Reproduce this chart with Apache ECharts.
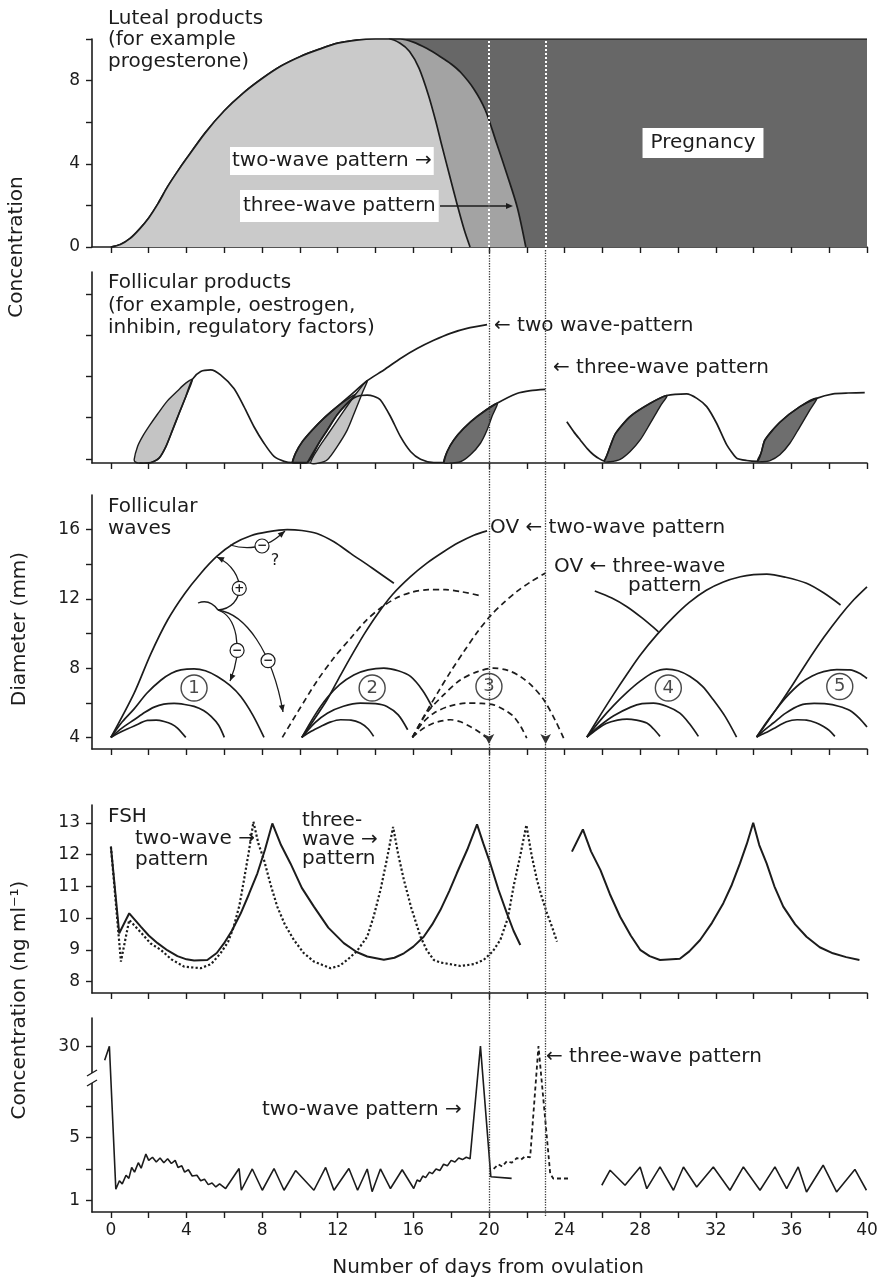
<!DOCTYPE html>
<html>
<head>
<meta charset="utf-8">
<title>Luteal and follicular products, follicular waves, FSH and LH</title>
<script src="https://cdn.jsdelivr.net/npm/echarts@6.0.0/dist/echarts.min.js"></script>
<style>
  html, body { margin: 0; padding: 0; background: #fff; }
  #chart { width: 882px; height: 1280px; }
</style>
</head>
<body>
<div id="chart"></div>
<script>
var FONT = '"DejaVu Sans", "Liberation Sans", sans-serif';
var INK = '#1c1c1c';

// shared x axis (days from ovulation)
var dayTicks = [0, 2, 4, 6, 8, 10, 12, 14, 16, 18, 20, 22, 24, 26, 28, 30, 32, 34, 36, 38, 40];
var dayLabels = [0, 4, 8, 12, 16, 20, 24, 28, 32, 36, 40];
var ovulationDays = [20, 23];

// panel 1 : luteal products
var luteal2Wave = [[0, 0], [0.5, 0.12], [1, 0.4], [1.5, 0.85], [2, 1.4], [2.5, 2.1], [3, 2.9], [3.5, 3.6], [4, 4.25],
  [5, 5.5], [6, 6.55], [7, 7.4], [8, 8.1], [9, 8.7], [10, 9.15], [11, 9.5], [12, 9.8], [13, 9.95], [14, 10], [14.7, 10],
  [15.3, 9.8], [15.8, 9.4], [16.3, 8.6], [16.8, 7.3], [17.2, 6.0], [17.5, 4.9], [17.9, 3.5], [18.3, 2.1], [18.7, 0.8], [19.0, 0]];
var luteal3Wave = [[0, 0], [0.5, 0.12], [1, 0.4], [1.5, 0.85], [2, 1.4], [2.5, 2.1], [3, 2.9], [3.5, 3.6], [4, 4.25],
  [5, 5.5], [6, 6.55], [7, 7.4], [8, 8.1], [9, 8.7], [10, 9.15], [11, 9.5], [12, 9.8], [13, 9.95], [14, 10], [15.3, 10],
  [16.0, 9.85], [16.7, 9.55], [17.43, 9.15], [18.0, 8.8], [18.5, 8.4], [19.2, 7.6], [19.8, 6.6], [20.4, 5.0],
  [20.95, 3.5], [21.5, 1.9], [21.95, 0]];
var pregnancy = [[14.7, 10], [40, 10]];
var lutealTicks = [0, 2, 4, 6, 8, 10];
var lutealLabels = [0, 4, 8];

// panel 2 : follicular products
var folLeaf1 = [[1.23, -0.02], [1.41, 0.30], [1.67, 0.54], [2.03, 0.80], [2.47, 1.09], [2.99, 1.41], [3.52, 1.65],
  [3.96, 1.84], [4.31, 1.93], [3.96, 1.51], [3.61, 1.11], [3.26, 0.70], [2.91, 0.30], [2.55, 0.02], [2.11, -0.09],
  [1.5, -0.1], [1.3, -0.08]];
var folBump1 = [[1.5, -0.1], [2.11, -0.09], [2.55, 0.02], [2.91, 0.30], [3.26, 0.70], [3.61, 1.11], [3.96, 1.51],
  [4.31, 1.93], [4.75, 2.12], [5.28, 2.16], [5.8, 2.04], [6.51, 1.71], [7.04, 1.27], [7.57, 0.78], [8.1, 0.38],
  [8.63, 0.06], [9.16, -0.06], [9.6, -0.09], [10.4, -0.09]];
var folLeaf2Dark = [[9.60, -0.09], [9.77, 0.14], [10.13, 0.42], [10.65, 0.70], [11.27, 0.99], [11.97, 1.27],
  [12.68, 1.50], [13.12, 1.61], [12.5, 1.35], [11.97, 1.07], [11.45, 0.70], [11.0, 0.38], [10.65, 0.06],
  [10.39, -0.09], [9.86, -0.1]];
var folLeaf2Light = [[10.57, -0.1], [10.92, 0.22], [11.45, 0.58], [12.06, 0.99], [12.85, 1.51], [13.56, 1.9],
  [13.29, 1.59], [12.94, 1.19], [12.5, 0.70], [11.97, 0.30], [11.45, -0.02], [11.0, -0.1]];
var folBig2 = [[9.60, -0.09], [9.77, 0.14], [10.13, 0.42], [10.65, 0.70], [11.27, 0.99], [11.97, 1.27], [12.68, 1.55],
  [13.56, 1.9], [14.44, 2.16], [15.32, 2.44], [16.2, 2.68], [17.08, 2.88], [17.96, 3.05], [18.84, 3.17], [19.9, 3.26]];
var folBump2 = [[10.39, -0.09], [11.0, 0.38], [11.45, 0.70], [11.97, 1.07], [12.5, 1.35], [12.85, 1.48], [13.2, 1.54],
  [13.56, 1.55], [13.9, 1.52], [14.26, 1.43], [14.79, 1.03], [15.32, 0.54], [15.85, 0.18], [16.38, -0.01],
  [17.08, -0.09], [17.61, -0.09]];
var folWave3 = [[17.61, -0.09], [17.79, 0.18], [18.14, 0.46], [18.66, 0.74], [19.37, 1.03], [20.43, 1.35],
  [21.48, 1.59], [22.2, 1.66], [22.98, 1.69]];
var folLeaf3 = [[17.61, -0.09], [17.79, 0.18], [18.14, 0.46], [18.66, 0.74], [19.37, 1.03], [20.43, 1.35],
  [20.16, 1.03], [19.9, 0.70], [19.55, 0.38], [19.02, 0.10], [18.49, -0.07], [17.96, -0.1]];
var folBump4 = [[24.12, 0.9], [24.5, 0.65], [24.83, 0.46], [25.2, 0.25], [25.53, 0.1], [25.85, 0.0], [26.1, -0.05],
  [26.25, 0.1], [26.45, 0.35], [26.7, 0.62], [27.47, 1.03], [28.53, 1.35], [29.41, 1.54], [30.46, 1.58], [31.0, 1.47],
  [31.52, 1.27], [32.05, 0.86], [32.58, 0.34], [33.1, 0.02], [33.63, -0.04], [34.2, -0.06], [34.4, 0.15],
  [34.6, 0.46], [35.39, 0.89], [36.45, 1.27], [37.33, 1.47], [38.21, 1.58], [39.0, 1.6], [39.88, 1.61]];
var folLeaf4 = [[26.1, -0.06], [26.25, 0.1], [26.45, 0.35], [26.7, 0.62], [27.47, 1.03], [28.53, 1.35], [29.41, 1.54],
  [29.05, 1.27], [28.53, 0.86], [28.0, 0.46], [27.47, 0.18], [26.94, -0.01], [26.41, -0.07]];
var folLeaf5 = [[34.2, -0.06], [34.4, 0.15], [34.6, 0.46], [35.39, 0.89], [36.45, 1.27], [37.33, 1.47],
  [36.98, 1.19], [36.45, 0.78], [35.92, 0.38], [35.39, 0.1], [34.87, -0.04], [34.43, -0.07]];
var folTicks = [0, 1, 2, 3, 4];

// panel 3 : follicular waves (diameter, mm)
var w1Dom = [[0, 4], [1.23, 6.56], [2.1, 8.8], [3.0, 10.78], [3.9, 12.3], [4.75, 13.47], [5.6, 14.45], [6.5, 15.2],
  [7.4, 15.65], [8.28, 15.87], [9.33, 16.0], [10.1, 15.95], [10.9, 15.78], [11.8, 15.3], [12.68, 14.63],
  [13.8, 13.8], [14.97, 12.9]];
var w1a = [[0, 4], [0.6, 4.9], [1.23, 5.65], [1.9, 6.55], [2.64, 7.3], [3.2, 7.7], [3.7, 7.9], [4.4, 7.96], [5.0, 7.85],
  [5.63, 7.52], [6.3, 7.0], [6.87, 6.36], [7.5, 5.3], [8.1, 4.0]];
var w1b = [[0, 4], [0.6, 4.55], [1.23, 5.02], [1.8, 5.45], [2.29, 5.75], [2.8, 5.92], [3.34, 5.96], [3.9, 5.9],
  [4.4, 5.79], [4.9, 5.55], [5.3, 5.21], [5.7, 4.7], [6.0, 4.0]];
var w1c = [[0, 4], [0.6, 4.35], [1.23, 4.66], [1.94, 4.98], [2.4, 5.0], [2.82, 4.92], [3.2, 4.78], [3.52, 4.54], [3.96, 4.0]];
var w2Dom3 = [[9.07, 4], [9.9, 5.5], [10.9, 7.25], [11.8, 8.6], [12.7, 9.75], [13.5, 10.75], [14.3, 11.5],
  [15.1, 12.05], [15.9, 12.38], [16.8, 12.53], [17.7, 12.53], [18.6, 12.4], [19.6, 12.17]];
var w2Dom = [[10.1, 4], [10.7, 4.95], [11.45, 6.2], [12.15, 7.6], [12.85, 8.95], [13.45, 10.05], [14.09, 11.1],
  [14.9, 12.25], [15.85, 13.28], [16.7, 14.05], [17.6, 14.72], [18.4, 15.25], [19.2, 15.68], [19.9, 15.93]];
var w2a = [[10.1, 4], [10.8, 5.3], [11.45, 6.3], [12.1, 7.05], [12.85, 7.61], [13.6, 7.9], [14.44, 8.0], [15.2, 7.85],
  [15.85, 7.52], [16.5, 6.7], [17.0, 5.75]];
var w2b = [[10.1, 4], [10.8, 4.85], [11.45, 5.4], [12.3, 5.8], [13.2, 5.98], [14.0, 5.95], [14.6, 5.79], [15.2, 5.3],
  [15.7, 4.44]];
var w2c = [[10.1, 4], [10.6, 4.35], [11.1, 4.63], [11.6, 4.88], [12.15, 5.02], [12.7, 5.0], [13.2, 4.83], [13.6, 4.5],
  [13.9, 4.06]];
var w3Dom = [[15.95, 4], [16.6, 5.3], [17.3, 6.6], [18.0, 7.85], [18.7, 9.0], [19.4, 10.1], [20.1, 11.05],
  [20.8, 11.8], [21.5, 12.45], [22.2, 12.98], [23.0, 13.5]];
var w3a = [[15.95, 4], [16.7, 5.4], [17.6, 6.45], [18.5, 7.33], [19.4, 7.8], [20.25, 8.0], [21.0, 7.87], [21.66, 7.52],
  [22.3, 6.95], [22.9, 6.17], [23.5, 5.0], [23.95, 3.96]];
var w3b = [[15.95, 4], [16.5, 4.85], [17.08, 5.4], [17.9, 5.8], [18.84, 5.98], [19.6, 5.96], [20.25, 5.88],
  [20.8, 5.6], [21.3, 5.21], [21.7, 4.6], [22.0, 3.96]];
var w3c = [[15.95, 4], [16.5, 4.5], [17.08, 4.83], [17.5, 4.95], [17.96, 5.02], [18.5, 4.9], [19.0, 4.63],
  [19.5, 4.3], [19.9, 3.96]];
var w4Regress = [[25.6, 12.46], [26.5, 12.05], [27.3, 11.55], [28.1, 10.9], [28.97, 10.1]];
var w4Dom = [[25.18, 4.02], [25.9, 5.3], [26.6, 6.5], [27.3, 7.65], [28.0, 8.75], [28.9, 9.95], [29.76, 10.95],
  [30.6, 11.8], [31.5, 12.5], [32.4, 12.98], [33.3, 13.28], [34.0, 13.4], [34.7, 13.43], [35.7, 13.25],
  [36.8, 12.9], [37.7, 12.35], [38.6, 11.65]];
var w4a = [[25.18, 4.02], [25.9, 5.0], [26.6, 5.85], [27.3, 6.6], [28.0, 7.25], [28.7, 7.75], [29.4, 7.94], [30.0, 7.85],
  [30.64, 7.52], [31.3, 6.95], [31.87, 6.17], [32.5, 5.2], [33.1, 4.02]];
var w4b = [[25.18, 4.02], [25.9, 4.7], [26.6, 5.25], [27.5, 5.75], [28.1, 5.95], [28.7, 5.98], [29.4, 5.8],
  [30.1, 5.4], [30.6, 4.8], [31.08, 4.06]];
var w4c = [[25.18, 4.02], [25.7, 4.45], [26.2, 4.8], [26.8, 5.0], [27.3, 5.06], [27.8, 5.0], [28.35, 4.83],
  [28.7, 4.5], [29.05, 4.06]];
var w5Dom = [[34.16, 4.02], [34.8, 5.0], [35.4, 5.95], [36.1, 7.1], [36.8, 8.3], [37.7, 9.75], [38.56, 11.0],
  [39.3, 11.95], [40, 12.7]];
var w5a = [[34.16, 4.02], [34.6, 4.75], [35.04, 5.4], [35.7, 6.3], [36.45, 7.1], [37.1, 7.55], [37.7, 7.8],
  [38.4, 7.92], [39.1, 7.9], [39.6, 7.7], [40, 7.4]];
var w5b = [[34.16, 4.02], [34.6, 4.45], [35.04, 4.83], [35.7, 5.4], [36.45, 5.85], [37.2, 5.96], [37.86, 5.94],
  [38.5, 5.8], [39.1, 5.55], [39.6, 5.1], [40, 4.6]];
var w5c = [[34.16, 4.02], [34.6, 4.25], [35.04, 4.5], [35.74, 4.9], [36.3, 5.02], [36.8, 5.0], [37.3, 4.85],
  [37.7, 4.63], [38.0, 4.4], [38.3, 4.06]];
var waveNames = ['1', '2', '3', '4', '5'];
var wavePos = [[4.4, 6.85], [13.82, 6.85], [20.0, 6.94], [29.49, 6.85], [38.56, 6.94]];
var diamTicks = [4, 6, 8, 10, 12, 14, 16];
var diamLabels = [4, 8, 12, 16];

// panel 4 : FSH (ng/ml)
var fshTwoA = [[0, 12.25], [0.44, 9.52], [0.97, 10.15], [1.58, 9.73], [2.0, 9.45], [2.47, 9.21], [3.0, 8.98],
  [3.52, 8.8], [4.0, 8.7], [4.4, 8.66], [5.1, 8.68], [5.6, 8.9], [5.98, 9.2], [6.4, 9.6], [6.87, 10.15], [7.3, 10.75],
  [7.75, 11.41], [8.15, 12.15], [8.54, 12.98], [9.0, 12.3], [9.5, 11.72], [10.1, 10.95], [10.74, 10.36],
  [11.5, 9.7], [12.32, 9.21], [13.0, 8.93], [13.56, 8.79], [14.44, 8.69], [15.0, 8.75], [15.5, 8.89], [16.0, 9.1],
  [16.55, 9.41], [17.0, 9.8], [17.43, 10.25], [17.9, 10.85], [18.3, 11.41], [18.85, 12.15], [19.37, 12.95],
  [19.7, 12.35], [20.07, 11.72], [20.5, 10.9], [20.95, 10.15], [21.3, 9.6], [21.66, 9.15]];
var fshTwoB = [[24.39, 12.09], [24.97, 12.79], [25.4, 12.1], [25.9, 11.51], [26.4, 10.75], [26.94, 10.04],
  [27.5, 9.45], [28.0, 9.0], [28.5, 8.8], [29.05, 8.68], [30.1, 8.72], [30.6, 8.95], [31.17, 9.31], [31.8, 9.85],
  [32.4, 10.47], [32.85, 11.05], [33.28, 11.72], [33.65, 12.35], [33.98, 13.0], [34.3, 12.3], [34.69, 11.72],
  [35.1, 11.0], [35.57, 10.36], [36.2, 9.8], [36.8, 9.41], [37.5, 9.08], [38.2, 8.89], [38.9, 8.77], [39.6, 8.68]];
var fshThree = [[0, 12.25], [0.53, 8.63], [0.97, 9.94], [1.58, 9.55], [2.1, 9.2], [2.64, 9.0], [3.2, 8.7],
  [3.87, 8.47], [4.75, 8.42], [5.3, 8.55], [5.8, 8.89], [6.2, 9.25], [6.5, 9.73], [6.8, 10.4], [7.04, 11.2],
  [7.3, 12.1], [7.54, 13.03], [7.8, 12.35], [8.1, 11.83], [8.45, 11.05], [8.8, 10.36], [9.2, 9.8], [9.68, 9.31],
  [10.2, 8.9], [10.74, 8.63], [11.62, 8.42], [12.1, 8.5], [12.5, 8.68], [13.0, 8.95], [13.56, 9.41], [13.9, 10.05],
  [14.26, 10.88], [14.6, 11.85], [14.93, 12.87], [15.2, 12.0], [15.5, 11.2], [15.9, 10.3], [16.38, 9.41],
  [16.7, 9.0], [17.08, 8.68], [17.43, 8.6], [18.5, 8.49], [19.2, 8.55], [19.72, 8.68], [20.2, 8.95], [20.6, 9.31],
  [21.0, 10.0], [21.3, 10.99], [21.65, 11.95], [21.98, 12.93], [22.25, 12.0], [22.54, 11.2], [22.8, 10.65],
  [23.07, 10.15], [23.35, 9.7], [23.6, 9.26]];
var fshTicks = [8, 9, 10, 11, 12, 13];

// panel 5 : LH (ng/ml, broken axis)
var lhTwo = [[-0.33, 29.1], [-0.08, 30], [0.26, 1.7], [0.45, 2.25], [0.6, 2.05], [0.8, 2.6], [0.95, 2.4], [1.1, 3.1],
  [1.25, 2.8], [1.45, 3.4], [1.6, 3.05], [1.85, 3.95], [2.0, 3.55], [2.2, 3.75], [2.4, 3.45], [2.6, 3.7], [2.8, 3.4],
  [3.0, 3.65], [3.2, 3.35], [3.4, 3.55], [3.55, 3.1], [3.75, 3.2], [3.9, 2.8], [4.1, 2.95], [4.3, 2.55], [4.55, 2.6],
  [4.75, 2.25], [4.95, 2.35], [5.15, 2.0], [5.35, 2.1], [5.55, 1.85], [5.75, 2.05], [6.07, 1.75],
  [6.78, 3.03], [6.9, 1.64], [7.48, 3.0], [8.01, 1.64], [8.63, 3.03], [9.16, 1.64], [9.77, 2.9], [10.74, 1.64],
  [11.36, 3.1], [11.8, 1.64], [12.59, 3.03], [13.05, 1.64], [13.56, 3.0], [13.82, 1.55], [14.26, 3.0],
  [14.79, 1.75], [15.41, 2.95], [16.02, 1.75], [16.2, 2.3], [16.35, 2.2], [16.5, 2.55], [16.65, 2.45],
  [16.85, 2.8], [17.0, 2.7], [17.2, 3.0], [17.4, 2.9], [17.6, 3.3], [17.8, 3.2], [18.0, 3.55], [18.2, 3.45],
  [18.4, 3.7], [18.6, 3.6], [18.8, 3.75], [19.0, 3.65], [19.55, 30], [20.1, 2.5], [20.2, 2.4], [21.2, 2.4]];
var lhThree = [[20.25, 3.0], [20.5, 3.3], [20.7, 3.15], [20.95, 3.5], [21.2, 3.4], [21.48, 3.7], [21.7, 3.6],
  [21.9, 3.8], [22.18, 3.75], [22.62, 30], [23.24, 2.71], [23.4, 2.39], [24.3, 2.39]];
var lhLate = [[25.97, 1.96], [26.41, 2.92], [27.2, 1.96], [28.0, 3.13], [28.35, 1.74], [29.05, 3.13], [29.76, 1.64],
  [30.29, 3.13], [30.99, 1.85], [31.87, 3.13], [32.75, 1.64], [33.46, 3.13], [34.34, 1.64], [35.13, 3.13],
  [35.75, 1.74], [36.36, 3.13], [36.8, 1.53], [37.68, 3.24], [38.39, 1.53], [39.36, 2.97], [39.97, 1.64]];
var lhTicks = [1, 3, 5, 7, 30];
var lhLabels = [1, 5, 30];

// ---------- helpers ----------
function xAx(grid, labels, hidden) {
  return {
    type: 'value', gridIndex: grid, min: -1, max: 40, show: !hidden,
    axisLine: { show: true, onZero: false, lineStyle: { color: INK, width: 1.6 } },
    axisTick: { show: true, length: 6, customValues: dayTicks, lineStyle: { color: INK, width: 1.4 } },
    axisLabel: { show: labels, customValues: dayLabels, fontSize: 17, fontFamily: FONT, color: INK, margin: 10 },
    splitLine: { show: false }
  };
}
function yAx(grid, min, max, ticks, labels, extra) {
  var a = {
    type: 'value', gridIndex: grid, min: min, max: max,
    axisLine: { show: true, onZero: false, lineStyle: { color: INK, width: 1.6 } },
    axisTick: { show: true, length: 6, customValues: ticks, lineStyle: { color: INK, width: 1.4 } },
    axisLabel: { show: !!labels, customValues: labels || [], fontSize: 17, fontFamily: FONT, color: INK, margin: 12 },
    splitLine: { show: false }
  };
  return Object.assign(a, extra || {});
}
function curve(grid, data, opt) {
  opt = opt || {};
  var s = {
    type: 'line', xAxisIndex: grid, yAxisIndex: grid, data: data, symbol: 'none', showSymbol: false,
    smooth: opt.smooth == null ? 0.3 : opt.smooth, silent: true, z: opt.z || 2,
    lineStyle: { color: INK, width: opt.width || 1.7, type: opt.type || 'solid' }
  };
  if (opt.fill) s.areaStyle = { color: opt.fill, opacity: 1 };
  return s;
}
function leaf(grid, pts, fill) {
  return {
    type: 'custom', xAxisIndex: grid, yAxisIndex: grid, data: [pts[0]], silent: true, z: 2,
    renderItem: function (params, api) {
      return {
        type: 'polygon',
        shape: { points: pts.map(function (p) { return api.coord(p); }), smooth: 0.3 },
        style: { fill: fill, stroke: INK, lineWidth: 1.4 }
      };
    }
  };
}
function vLines(grid, color, width) {
  return {
    type: 'line', xAxisIndex: grid, yAxisIndex: grid, data: [], symbol: 'none', silent: true, z: 6,
    markLine: {
      silent: true, symbol: 'none', label: { show: false }, animation: false,
      lineStyle: { color: color, type: 'dotted', width: width },
      data: ovulationDays.map(function (d) { return { xAxis: d }; })
    }
  };
}

var series = [
  // panel 1
  curve(0, pregnancy, { fill: '#676767', smooth: false, z: 1 }),
  curve(0, luteal3Wave, { fill: '#a3a3a3', z: 2 }),
  curve(0, luteal2Wave, { fill: '#cacaca', z: 3 }),
  vLines(0, '#ffffff', 2),
  // panel 2
  leaf(1, folLeaf1, '#c4c4c4'),
  curve(1, folBump1, { smooth: 0.25 }),
  curve(1, folBump2, { smooth: 0.25 }),
  leaf(1, folLeaf2Dark, '#6e6e6e'),
  leaf(1, folLeaf2Light, '#c4c4c4'),
  curve(1, folBig2, { smooth: 0.25 }),
  leaf(1, folLeaf3, '#6e6e6e'),
  curve(1, folWave3, { smooth: 0.25 }),
  curve(1, folBump4, { smooth: 0.2 }),
  leaf(1, folLeaf4, '#6e6e6e'),
  leaf(1, folLeaf5, '#6e6e6e'),
  // panel 3
  curve(2, w1Dom), curve(2, w1a), curve(2, w1b), curve(2, w1c),
  curve(2, w2Dom3, { type: [6, 4] }),
  curve(2, w2Dom), curve(2, w2a), curve(2, w2b), curve(2, w2c),
  curve(2, w3Dom, { type: [6, 4] }), curve(2, w3a, { type: [6, 4] }),
  curve(2, w3b, { type: [6, 4] }), curve(2, w3c, { type: [6, 4] }),
  curve(2, w4Regress), curve(2, w4Dom), curve(2, w4a), curve(2, w4b), curve(2, w4c),
  curve(2, w5Dom), curve(2, w5a), curve(2, w5b), curve(2, w5c),
  {
    type: 'scatter', xAxisIndex: 2, yAxisIndex: 2, silent: true, z: 4, symbol: 'circle', symbolSize: 26,
    data: wavePos.map(function (p, i) { return { value: p, name: waveNames[i] }; }),
    itemStyle: { color: '#fff', borderColor: INK, borderWidth: 1.4 },
    label: { show: true, position: 'inside', formatter: '{b}', fontSize: 18, fontFamily: FONT, color: INK }
  },
  {
    type: 'line', xAxisIndex: 2, yAxisIndex: 2, data: [], silent: true, z: 7,
    markPoint: {
      silent: true, symbol: 'arrow', symbolSize: [8, 10], symbolRotate: 180, label: { show: false },
      itemStyle: { color: '#333' },
      data: ovulationDays.map(function (d) { return { coord: [d, 3.62] }; })
    }
  },
  // panel 4
  curve(3, fshThree, { smooth: false, type: 'dotted', width: 2.2 }),
  curve(3, fshTwoA, { smooth: false, width: 2 }),
  curve(3, fshTwoB, { smooth: false, width: 2 }),
  // panel 5
  curve(4, lhThree, { smooth: false, type: [4, 3], width: 1.8 }),
  curve(4, lhTwo, { smooth: false, width: 1.6 }),
  curve(4, lhLate, { smooth: false, width: 1.6 }),
  // dotted ovulation lines over panels 2-5
  vLines(5, '#3a3a3a', 1.3)
];

// ---------- annotations ----------
var g = [];
function txt(x, y, s, o) {
  return { type: 'text', x: x, y: y, silent: true, z: 100,
    style: Object.assign({ text: s, font: '20px ' + FONT, fill: INK, align: 'left', verticalAlign: 'middle' }, o || {}) };
}
function rot(x, y, s) {
  return { type: 'text', x: x, y: y, rotation: Math.PI / 2, silent: true, z: 100,
    style: { text: s, font: '20px ' + FONT, fill: INK, align: 'center', verticalAlign: 'middle' } };
}
function head(x, y, dx, dy) {
  var L = Math.sqrt(dx * dx + dy * dy); dx /= L; dy /= L;
  var len = 7, w = 3;
  return { type: 'polygon', silent: true, z: 100,
    shape: { points: [[x, y], [x - dx * len - dy * w, y - dy * len + dx * w], [x - dx * len + dy * w, y - dy * len - dx * w]] },
    style: { fill: INK } };
}
function bz(p, t) {
  var u = 1 - t;
  return [u * u * u * p[0][0] + 3 * u * u * t * p[1][0] + 3 * u * t * t * p[2][0] + t * t * t * p[3][0],
          u * u * u * p[0][1] + 3 * u * u * t * p[1][1] + 3 * u * t * t * p[2][1] + t * t * t * p[3][1]];
}
function arc(p, arrow) {
  g.push({ type: 'bezierCurve', silent: true, z: 100,
    shape: { x1: p[0][0], y1: p[0][1], cpx1: p[1][0], cpy1: p[1][1], cpx2: p[2][0], cpy2: p[2][1], x2: p[3][0], y2: p[3][1] },
    style: { stroke: INK, lineWidth: 1.3, fill: 'none' } });
  if (arrow) g.push(head(p[3][0], p[3][1], p[3][0] - p[2][0], p[3][1] - p[2][1]));
}
function sign(pt, s) {
  g.push({ type: 'circle', silent: true, z: 101, shape: { cx: pt[0], cy: pt[1], r: 7 },
    style: { fill: '#fff', stroke: INK, lineWidth: 1.2 } });
  g.push({ type: 'text', silent: true, z: 102, x: pt[0], y: pt[1],
    style: { text: s, font: 'bold 12px ' + FONT, fill: INK, align: 'center', verticalAlign: 'middle' } });
}

// axis titles
g.push(rot(17, 247, 'Concentration'));
g.push(rot(20, 629, 'Diameter (mm)'));
g.push(rot(20, 1000, 'Concentration (ng ml\u207B\u00B9)'));
g.push(txt(488, 1268, 'Number of days from ovulation', { align: 'center' }));

// panel 1
g.push(txt(108, 8, 'Luteal products\n(for example\nprogesterone)', { verticalAlign: 'top', lineHeight: 21.5 }));
g.push(txt(230, 161, 'two-wave pattern \u2192', { backgroundColor: '#fff', padding: [4, 2, 4, 2] }));
g.push(txt(240, 206, 'three-wave pattern', { backgroundColor: '#fff', padding: [6, 3, 6, 3] }));
g.push({ type: 'line', silent: true, z: 100, shape: { x1: 440, y1: 206, x2: 510, y2: 206 }, style: { stroke: INK, lineWidth: 1.3 } });
g.push(head(513, 206, 1, 0));
g.push(txt(703, 143, 'Pregnancy', { align: 'center', backgroundColor: '#fff', padding: [5, 8, 5, 8] }));

// panel 2
g.push(txt(108, 272, 'Follicular products\n(for example, oestrogen,\ninhibin, regulatory factors)', { verticalAlign: 'top', lineHeight: 22.5 }));
g.push(txt(494, 326, '\u2190 two wave-pattern'));
g.push(txt(553, 368, '\u2190 three-wave pattern'));

// panel 3
g.push(txt(108, 496, 'Follicular\nwaves', { verticalAlign: 'top', lineHeight: 22 }));
g.push(txt(490, 528, 'OV \u2190 two-wave pattern'));
g.push(txt(554, 567, 'OV \u2190 three-wave'));
g.push(txt(628, 586, 'pattern'));
var fbUp = [[218, 610], [245, 608], [248, 572], [217, 557]];
var fbDn1 = [[218, 610], [236, 616], [244, 648], [230, 681]];
var fbDn2 = [[218, 610], [245, 614], [272, 650], [283, 712]];
arc([[198, 603], [206, 600], [213, 603], [218, 610]], false);
arc(fbUp, true);
arc(fbDn1, true);
arc(fbDn2, true);
arc([[230, 545], [240, 548], [248, 548], [255, 547]], false);
arc([[268, 543], [274, 541], [279, 536], [285, 531]], true);
sign(bz(fbUp, 0.5), '+');
sign(bz(fbDn1, 0.68), '\u2212');
sign(bz(fbDn2, 0.68), '\u2212');
sign([262, 546], '\u2212');
g.push(txt(275, 561, '?', { font: '16px ' + FONT, align: 'center' }));

// panel 4
g.push(txt(108, 817, 'FSH'));
g.push(txt(135, 839, 'two-wave \u2192'));
g.push(txt(135, 860, 'pattern'));
g.push(txt(302, 821, 'three-'));
g.push(txt(302, 840, 'wave \u2192'));
g.push(txt(302, 859, 'pattern'));

// panel 5
g.push(txt(262, 1110, 'two-wave pattern \u2192'));
g.push(txt(546, 1057, '\u2190 three-wave pattern'));
// broken-axis marks
g.push({ type: 'rect', silent: true, z: 100, shape: { x: 86, y: 1073, width: 12, height: 10 }, style: { fill: '#fff' } });
g.push({ type: 'line', silent: true, z: 101, shape: { x1: 87, y1: 1076, x2: 97, y2: 1070 }, style: { stroke: INK, lineWidth: 1.4 } });
g.push({ type: 'line', silent: true, z: 101, shape: { x1: 87, y1: 1086, x2: 97, y2: 1080 }, style: { stroke: INK, lineWidth: 1.4 } });

var chart = echarts.init(document.getElementById('chart'), null, { renderer: 'canvas' });
chart.setOption({
  animation: false,
  backgroundColor: '#fff',
  textStyle: { fontFamily: FONT },
  grid: [
    { left: 92, right: 15, top: 39, height: 208 },
    { left: 92, right: 15, top: 272, height: 191 },
    { left: 92, right: 15, top: 495, height: 254 },
    { left: 92, right: 15, top: 805, height: 188 },
    { left: 92, right: 15, top: 1018, height: 194 },
    { left: 92, right: 15, top: 250, height: 966 }
  ],
  xAxis: [xAx(0, false), xAx(1, false), xAx(2, false), xAx(3, false), xAx(4, true), xAx(5, false, true)],
  yAxis: [
    yAx(0, 0, 10, lutealTicks, lutealLabels),
    yAx(1, -0.1, 4.54, folTicks, null),
    yAx(2, 3.33, 18, diamTicks, diamLabels),
    yAx(3, 7.64, 13.56, fshTicks, fshTicks),
    yAx(4, 0.25, 31.8, lhTicks, lhLabels, {
      breaks: [{ start: 8.5, end: 28.3, gap: 0.65 }],
      breakArea: { show: false }
    }),
    { type: 'value', gridIndex: 5, min: 0, max: 1, show: false }
  ],
  series: series,
  graphic: g
});
</script>
</body>
</html>
